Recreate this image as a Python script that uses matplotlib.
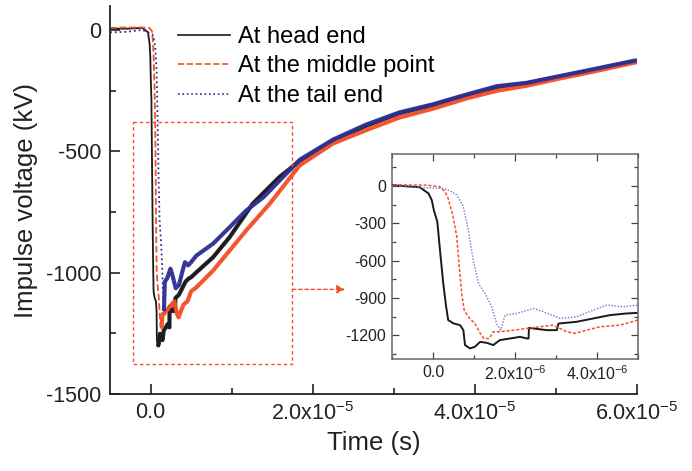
import numpy as np
import matplotlib
matplotlib.use("Agg")
import matplotlib.pyplot as plt
from matplotlib.ticker import MultipleLocator, FuncFormatter
from matplotlib.lines import Line2D

plt.rcParams['font.family'] = ['Liberation Sans', 'DejaVu Sans']
plt.rcParams['mathtext.default'] = 'regular'
plt.rcParams['axes.unicode_minus'] = False

# ---- data (time in s, voltage in kV) ----
t_head = [-5e-6, -3e-6, -1e-6, -0.32e-6, -0.11e-6, -0.03e-6, 0.02e-6, 0.105e-6, 0.17e-6,
          0.25e-6, 0.32e-6, 0.37e-6, 0.50e-6, 0.66e-6, 0.74e-6, 0.78e-6, 0.90e-6, 1.02e-6,
          1.15e-6, 1.31e-6, 1.47e-6, 1.63e-6, 1.88e-6, 2.12e-6, 2.29e-6, 2.33e-6, 2.34e-6,
          2.77e-6, 3.02e-6, 3.06e-6, 3.5e-6, 3.91e-6, 4.32e-6, 4.72e-6, 5.0e-6, 5.64e-6,
          7.7e-6, 9.75e-6, 1.26e-5, 1.59e-5, 1.84e-5, 2.25e-5, 2.66e-5, 3.07e-5, 3.49e-5,
          3.9e-5, 4.27e-5, 4.64e-5, 5.05e-5, 5.46e-5, 5.95e-5, 6.0e-5]
v_head = [5, 5, 8, -10, -59, -113, -193, -287, -515,
          -783, -970, -1077, -1104, -1118, -1158, -1278, -1305, -1292,
          -1252, -1260, -1278, -1238, -1225, -1212, -1225, -1225, -1140,
          -1158, -1158, -1105, -1091, -1064, -1037, -1024, -1019, -999,
          -937, -854, -716, -606, -540, -458, -395, -343, -310,
          -270, -236, -220, -193, -165, -131, -128]

t_mid = [-5e-6, -3e-6, -1e-6, -0.15e-6, 0.17e-6, 0.29e-6, 0.37e-6, 0.48e-6, 0.58e-6,
         0.64e-6, 0.70e-6, 0.76e-6, 0.86e-6, 1.02e-6, 1.15e-6, 1.24e-6, 1.37e-6, 1.47e-6,
         1.63e-6, 1.96e-6, 2.29e-6, 2.61e-6, 2.93e-6, 3.26e-6, 3.46e-6, 3.75e-6, 4.07e-6,
         4.56e-6, 5.0e-6, 5.64e-6, 7.7e-6, 9.75e-6, 1.18e-5, 1.47e-5, 1.84e-5, 2.25e-5,
         2.66e-5, 3.07e-5, 3.49e-5, 3.9e-5, 4.27e-5, 4.64e-5, 5.05e-5, 5.46e-5, 5.95e-5, 6.0e-5]
v_mid = [8, 10, 10, 8, -5, -46, -99, -233, -407,
         -649, -863, -997, -1051, -1104, -1184, -1225, -1225, -1171,
         -1171, -1158, -1144, -1131, -1118, -1171, -1184, -1158, -1131,
         -1118, -1077, -1061, -992, -909, -826, -716, -558, -468,
         -413, -361, -324, -282, -251, -230, -200, -172, -136, -133]

t_tail = [-5e-6, -3e-6, -1e-6, 0.25e-6, 0.41e-6, 0.58e-6, 0.74e-6, 0.86e-6, 0.98e-6,
          1.11e-6, 1.27e-6, 1.43e-6, 1.55e-6, 1.65e-6, 1.76e-6, 2.04e-6, 2.45e-6, 2.69e-6,
          3.10e-6, 3.5e-6, 3.91e-6, 4.24e-6, 4.63e-6, 5.0e-6, 5.64e-6, 7.7e-6, 9.75e-6,
          1.18e-5, 1.39e-5, 1.84e-5, 2.25e-5, 2.66e-5, 3.07e-5, 3.49e-5, 3.9e-5, 4.27e-5,
          4.64e-5, 5.05e-5, 5.46e-5, 5.95e-5, 6.0e-5]
v_tail = [-10, -8, 0, -19, -37, -72, -166, -354, -595,
          -783, -863, -970, -1104, -1158, -1037, -1024, -984, -1010,
          -1064, -1051, -997, -957, -970, -957, -930, -881, -813,
          -744, -690, -535, -452, -390, -340, -306, -266, -232,
          -218, -190, -162, -128, -125]

labels = ['At head end', 'At the middle point', 'At the tail end']
c_head, c_mid, c_tail = '#1a1a1a', '#f2522a', '#2e3192'

def sci_fmt(exp):
    def f(x, pos):
        if abs(x) < 1e-15:
            return '0.0'
        return r'$\mathregular{%.1fx10^{%d}}$' % (x / 10**exp, exp)
    return FuncFormatter(f)

fig = plt.figure(figsize=(6.92, 4.71), dpi=100)
ax = fig.add_axes([0.159, 0.1635, 0.7615, 0.8235])

series = [(t_head, v_head, c_head, '-'), (t_mid, v_mid, c_mid, '--'), (t_tail, v_tail, c_tail, ':')]
for t, v, c, ls in series:
    t = np.array(t)
    v = np.array(v)
    # noisy recorded band after the front: thicker trace from the minimum on
    i0 = int(np.argmin(v))
    ax.plot(t[i0:], v[i0:], color=c, lw=3.0, solid_capstyle='butt', alpha=0.95)
    ax.plot(t, v, color=c, lw=1.3, ls=ls)

ax.set_xlim(-5e-6, 6e-5)
ax.set_ylim(-1500, 98)
ax.xaxis.set_major_locator(MultipleLocator(2e-5))
ax.xaxis.set_minor_locator(MultipleLocator(1e-5))
ax.xaxis.set_major_formatter(sci_fmt(-5))
ax.yaxis.set_major_locator(MultipleLocator(500))
ax.yaxis.set_minor_locator(MultipleLocator(250))
for s in ['top', 'right']:
    ax.spines[s].set_visible(False)
for s in ['left', 'bottom']:
    ax.spines[s].set_linewidth(1.3)
    ax.spines[s].set_color('#222222')
ax.tick_params(which='both', direction='in', labelsize=15.5, width=1.2, colors='#222222')
ax.tick_params(which='major', length=7, pad=6)
ax.tick_params(which='minor', length=4)
ax.set_xlabel('Time (s)', fontsize=18.5, color='#222222', labelpad=4)
ax.set_ylabel('Impulse voltage (kV)', fontsize=18.5, color='#222222', labelpad=6)

handles = [Line2D([], [], color=c_head, lw=1.2, ls='-'),
           Line2D([], [], color=c_mid, lw=1.2, ls='--'),
           Line2D([], [], color=c_tail, lw=1.2, ls=':')]
fig.legend(handles, labels, loc='upper left', bbox_to_anchor=(0.257, 0.945), frameon=False,
           fontsize=17, handlelength=2.2, handletextpad=0.35, labelspacing=0.32,
           borderpad=0, borderaxespad=0)

# zoom box and arrow
ax.plot([-2.2e-6, 1.75e-5, 1.75e-5, -2.2e-6, -2.2e-6], [-380, -380, -1376, -1376, -380],
        color=c_mid, lw=1.0, ls=(0, (2.5, 2)))
ax.annotate('', xy=(2.4e-5, -1069), xytext=(1.75e-5, -1069),
            arrowprops=dict(arrowstyle='-|>', color=c_mid, lw=1.0, ls=(0, (2.5, 2)),
                            mutation_scale=12, shrinkA=0, shrinkB=0))

# inset
ins = fig.add_axes([0.5665, 0.2378, 0.3555, 0.4352])
ins.plot(t_head, v_head, color=c_head, lw=1.4, ls='-')
ins.plot(t_mid, v_mid, color=c_mid, lw=1.1, ls=(0, (2, 1.2)))
ins.plot(t_tail, v_tail, color='#7075c8', lw=1.0, ls=(0, (1, 1.2)))
ins.set_xlim(-1e-6, 5e-6)
ins.set_ylim(-1390, 258)
ins.xaxis.set_major_locator(MultipleLocator(2e-6))
ins.xaxis.set_minor_locator(MultipleLocator(1e-6))
ins.xaxis.set_major_formatter(sci_fmt(-6))
ins.yaxis.set_major_locator(MultipleLocator(300))
ins.yaxis.set_minor_locator(MultipleLocator(150))
for s in ins.spines.values():
    s.set_color('#666666')
    s.set_linewidth(1.1)
ins.tick_params(which='both', direction='in', top=True, right=True, labelsize=11.5,
                colors='#444444', width=0.9)
ins.tick_params(which='major', length=5, pad=4)
ins.tick_params(which='minor', length=3)
for lab in ins.get_xticklabels() + ins.get_yticklabels():
    lab.set_color('#222222')
for lab in ax.get_xticklabels() + ax.get_yticklabels():
    lab.set_color('#222222')

fig.savefig('out.png', dpi=100)
